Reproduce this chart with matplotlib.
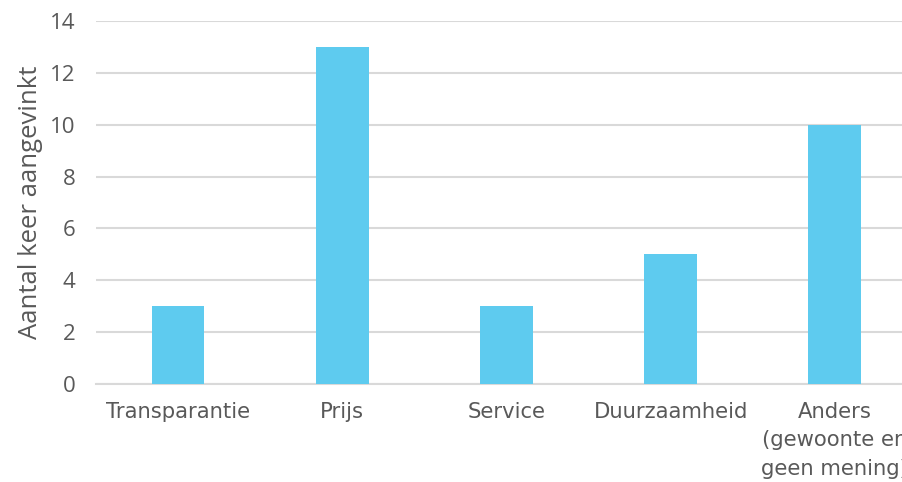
import matplotlib
matplotlib.use('Agg')
import matplotlib.pyplot as plt
import numpy as np

categories = ['Transparantie', 'Prijs', 'Service', 'Duurzaamheid',
              'Anders\n(gewoonte en\ngeen mening)']
counts = [3, 13, 3, 5, 10]
yticks = [0, 2, 4, 6, 8, 10, 12, 14]

fig = plt.figure(figsize=(9.03, 4.82), dpi=100)
ax = fig.add_axes([0.1063, 0.2033, 0.909, 0.7531])

x = np.arange(len(categories))
ax.bar(x, counts, width=0.32, color='#5ECBEF', zorder=3)

ax.set_xlim(-0.5, len(categories) - 0.5)
ax.set_ylim(0, 14)
ax.set_yticks(yticks)
ax.yaxis.grid(True, color='#D9D9D9', linewidth=1.5, zorder=0)
ax.tick_params(axis='y', length=0, pad=15, labelsize=16, labelcolor='#595959')
for lab in ax.get_yticklabels():
    lab.set_family('Open Sans')

ax.set_xticks(x)
ax.set_xticklabels(categories, fontsize=15.2, color='#595959', linespacing=1.52)
ax.tick_params(axis='x', length=0, pad=13)

for side in ['top', 'right', 'left']:
    ax.spines[side].set_visible(False)
ax.spines['bottom'].set_color('#D9D9D9')
ax.spines['bottom'].set_linewidth(1.5)

ax.set_ylabel('Aantal keer aangevinkt', fontsize=18.5, color='#595959',
              family='Open Sans', labelpad=5)

fig.savefig('out.png', dpi=100)
